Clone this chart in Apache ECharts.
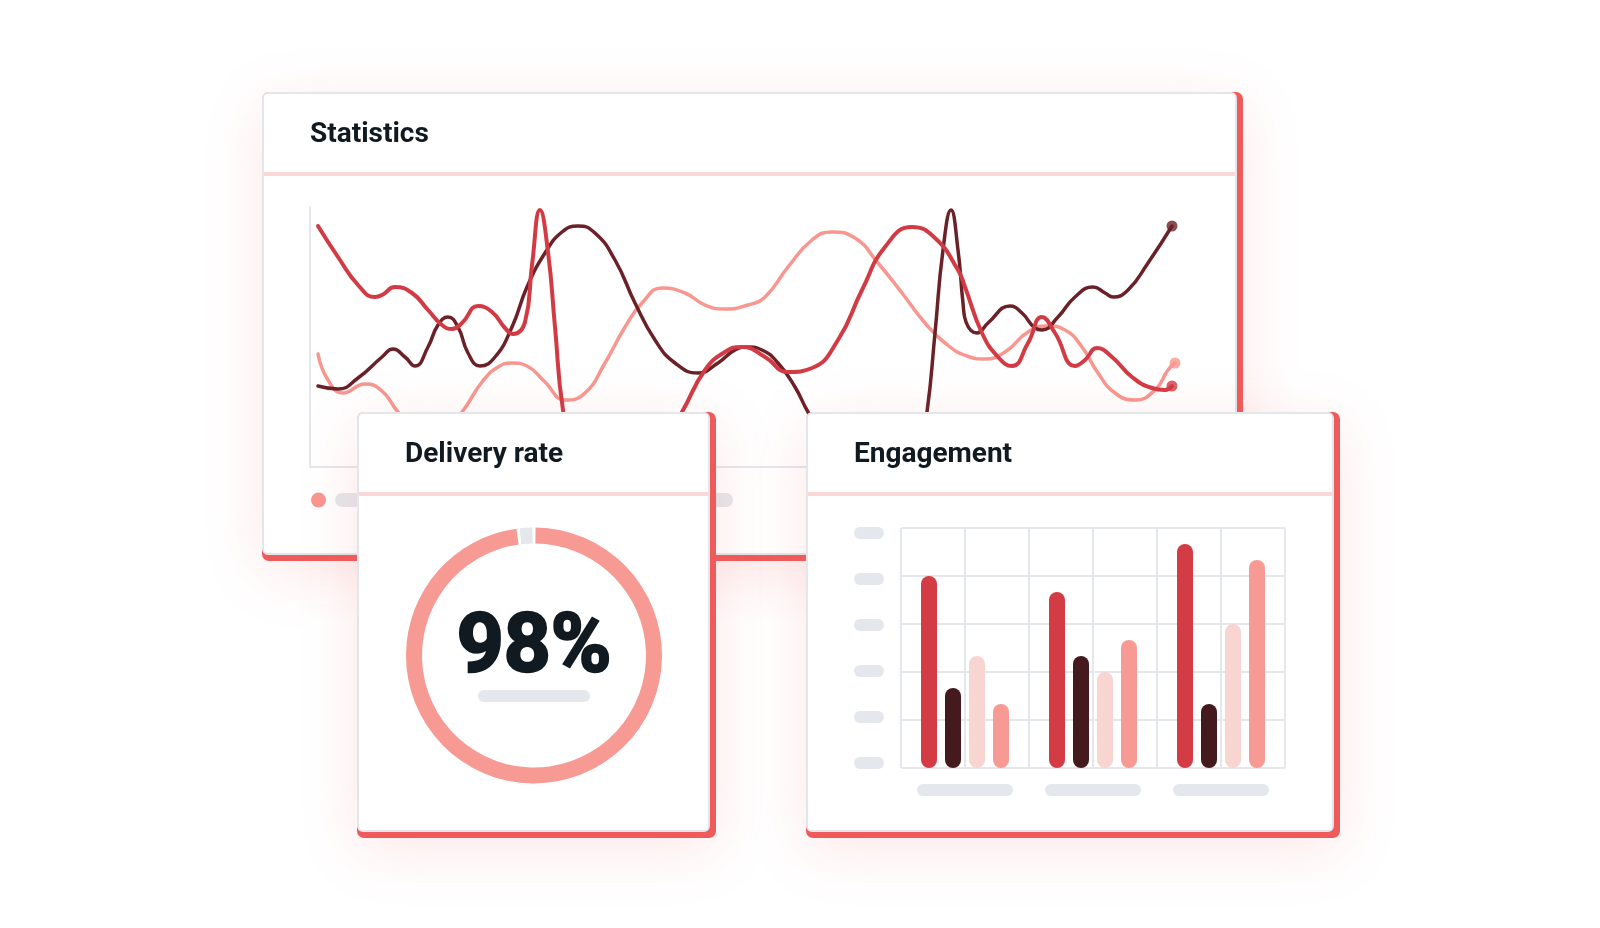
<!DOCTYPE html>
<html><head><meta charset="utf-8">
<script src="https://cdn.jsdelivr.net/npm/echarts@6/dist/echarts.min.js"></script>
<style>html,body{margin:0;padding:0;background:#fff;}#c{width:1600px;height:928px;}</style>
</head><body><div id="c"></div>
<script>
// ---- Statistics (line chart) data: [x, y] ----
const redLine = [[0.8,24.1],[2.8,21.0],[4.8,18.2],[6.5,17.0],[7.2,17.2],[8.5,18.0],[10.2,17.4],[11.8,15.7],[13.2,14.2],[14.2,13.8],[15.2,14.4],[16.8,16.1],[18.2,15.5],[19.5,13.9],[20.3,13.3],[21.5,14.5],[22.2,20.2],[23.0,25.7],[23.8,21.5],[24.5,14.0],[25.3,5.7],[26.5,0.8],[29.0,0.5],[33.0,0.6],[35.2,2.3],[37.2,5.5],[39.5,9.7],[41.5,11.5],[43.2,12.0],[45.5,11.0],[47.8,9.5],[50.2,9.9],[52.8,12.7],[55.2,17.7],[57.5,22.0],[60.2,24.0],[62.5,22.9],[64.8,19.7],[65.5,18.0],[67.2,13.4],[68.8,11.0],[70.2,10.1],[71.8,12.4],[73.2,15.0],[74.5,13.4],[76.5,10.1],[77.5,10.7],[78.7,11.9],[80.2,11.0],[82.2,9.0],[84.2,7.9],[85.5,7.7],[86.2,8.1]];
const darkLine = [[0.8,8.1],[2.8,7.8],[4.8,8.9],[7.2,11.0],[8.3,11.8],[9.5,11.0],[10.5,10.1],[11.8,12.0],[12.8,14.2],[13.8,15.0],[14.8,14.0],[15.8,11.4],[17.0,10.1],[18.5,11.0],[20.2,14.0],[21.7,18.0],[23.5,21.4],[25.2,23.5],[26.8,24.1],[28.5,23.4],[30.5,20.7],[32.5,16.4],[34.5,12.7],[36.5,10.4],[38.8,9.4],[40.8,10.4],[42.5,11.7],[43.8,12.0],[45.2,11.7],[46.8,10.4],[48.5,8.0],[49.8,5.5],[52.0,2.0],[57.0,0.7],[60.8,0.9],[61.7,5.5],[62.5,13.4],[63.3,21.7],[64.1,25.7],[64.8,21.7],[65.3,16.4],[65.6,14.5],[66.7,13.4],[67.8,14.4],[70.0,16.1],[71.2,15.4],[72.5,13.9],[73.2,13.7],[74.8,15.0],[76.5,17.0],[78.3,18.0],[79.5,17.4],[80.3,17.0],[81.8,17.7],[83.8,20.4],[86.2,24.1]];
const salmonLine = [[0.8,11.3],[1.8,8.7],[3.3,7.4],[5.5,8.3],[7.2,7.6],[8.8,5.5],[10.5,3.9],[12.0,3.1],[13.5,3.9],[15.2,5.5],[17.2,8.5],[18.8,10.0],[20.2,10.4],[21.7,10.1],[23.5,8.5],[25.5,6.7],[27.5,7.4],[29.5,10.4],[31.5,14.0],[33.2,16.4],[35.2,17.9],[37.5,17.4],[39.5,16.2],[41.5,15.8],[43.8,16.2],[45.5,17.0],[47.8,20.0],[50.2,22.7],[52.2,23.5],[54.5,22.9],[56.8,20.4],[59.2,17.4],[61.5,14.4],[63.5,12.4],[65.7,11.1],[67.5,10.8],[69.5,11.5],[71.8,13.5],[73.8,14.1],[75.5,13.7],[77.2,12.0],[78.8,9.4],[80.5,7.4],[82.5,6.7],[84.5,7.7],[85.8,9.7],[86.5,10.4]];

// ---- Engagement (bar chart) data ----
const engagementCategories = ['A', 'B', 'C'];
const engagementRed = [12, 11, 14];
const engagementDark = [5, 7, 4];
const engagementPale = [7, 6, 9];
const engagementSalmon = [4, 8, 13];
const engagementMax = 15;
const engagementPillCount = 6;

// ---- Delivery rate ----
const deliveryRate = 98;

const titles = ['Statistics', 'Delivery rate', 'Engagement'];

const C = {
  red: '#d23b44', dark: '#6b2128', salmon: '#f8968f',
  barRed: '#d33c45', barDark: '#451a1f', barPale: '#f8d5d1', barSalmon: '#f89a94',
  ring: '#f89a94', gray: '#e4e7eb', accent: '#ef5b5b', sep: '#f9d8d5', text: '#121a21'
};

function card(x, y, w, h, z, title) {
  return [
    { type: 'rect', z: z, silent: true,
      shape: { x: x, y: y, width: w + 6, height: h + 6, r: 7 },
      style: { fill: C.accent, shadowBlur: 60, shadowColor: 'rgba(239,91,91,0.15)', shadowOffsetY: 12 } },
    { type: 'rect', z: z + 1, silent: true,
      shape: { x: x + 1, y: y + 1, width: w - 2, height: h - 2, r: 5 },
      style: { fill: '#fff', stroke: '#e3e6ea', lineWidth: 2 } },
    { type: 'rect', z: z + 2, silent: true,
      shape: { x: x + 2, y: y + 80, width: w - 4, height: 4 },
      style: { fill: C.sep } },
    { type: 'text', z: z + 2, silent: true, x: x + 48, y: y + 43,
      style: { text: title, font: 'bold 28px Roboto', fill: C.text, textAlign: 'left', textVerticalAlign: 'middle' } }
  ];
}

const graphics = [].concat(
  card(262, 92, 975, 463, 1, titles[0]),
  [
    { type: 'circle', z: 3, silent: true, shape: { cx: 318.5, cy: 500, r: 7.5 }, style: { fill: C.salmon } },
    { type: 'rect', z: 3, silent: true, shape: { x: 335, y: 493, width: 398, height: 14, r: 7 }, style: { fill: C.gray } }
  ],
  card(357, 412, 353, 420, 10, titles[1]),
  card(806, 412, 528, 420, 10, titles[2]),
  [
    { type: 'text', z: 15, silent: true, x: 534, y: 650.5,
      style: { text: deliveryRate + '%', font: 'bold 82px Roboto', fill: C.text, stroke: C.text, lineWidth: 2.5,
        textAlign: 'center', textVerticalAlign: 'middle' } },
    { type: 'rect', z: 15, silent: true, shape: { x: 478, y: 690, width: 112, height: 12, r: 6 }, style: { fill: C.gray } }
  ]
);

const pill = (w) => ({ p: { width: w, height: 12, backgroundColor: C.gray, borderRadius: 6 } });

// y-axis placeholder pills spread evenly inside the grid (inset by half a pill)
const inset = engagementMax * 5 / 240;
const yPillValues = Array.from({ length: engagementPillCount }, (_, i) =>
  inset + i * (engagementMax - 2 * inset) / (engagementPillCount - 1));

function lineSeries(data, color, width) {
  return { type: 'line', xAxisIndex: 0, yAxisIndex: 0, data: data, smooth: 0.5, symbol: 'none', showSymbol: false,
    lineStyle: { color: color, width: width, cap: 'round', join: 'round' }, z: 5, silent: true };
}
function endDot(data, color) {
  return { type: 'scatter', xAxisIndex: 0, yAxisIndex: 0, data: [data[data.length - 1]], symbol: 'circle', symbolSize: 11,
    itemStyle: { color: color }, z: 6, silent: true };
}
function barSeries(data, color) {
  return { type: 'bar', xAxisIndex: 1, yAxisIndex: 1, data: data, barWidth: 16, barGap: '50%',
    itemStyle: { color: color, borderRadius: 8 }, z: 14, silent: true };
}

const option = {
  animation: false,
  graphic: { elements: graphics },
  grid: [
    { left: 310, top: 207, width: 870, height: 260 },
    { left: 901, top: 528, width: 384, height: 240 }
  ],
  xAxis: [
    { gridIndex: 0, type: 'value', min: 0, max: 87, z: 4,
      axisLine: { show: true, lineStyle: { color: C.gray, width: 2 } }, axisTick: { show: false }, axisLabel: { show: false }, splitLine: { show: false } },
    { gridIndex: 1, type: 'category', data: engagementCategories, z: 13,
      axisLine: { show: false }, axisTick: { show: false }, splitLine: { show: false },
      axisLabel: { margin: 16, formatter: () => '{p| }', rich: pill(96) } },
    { gridIndex: 1, type: 'value', min: 0, max: 6, interval: 1, position: 'top', z: 13,
      axisLine: { show: false }, axisTick: { show: false }, axisLabel: { show: false },
      splitLine: { show: true, lineStyle: { color: C.gray, width: 2 } } }
  ],
  yAxis: [
    { gridIndex: 0, type: 'value', min: 0, max: 26, z: 4,
      axisLine: { show: true, lineStyle: { color: C.gray, width: 2 } }, axisTick: { show: false }, axisLabel: { show: false }, splitLine: { show: false } },
    { gridIndex: 1, type: 'value', min: 0, max: engagementMax, interval: 3, z: 13,
      axisLine: { show: false }, axisTick: { show: false },
      axisLabel: { margin: 17, customValues: yPillValues, formatter: () => '{p| }', rich: pill(30) },
      splitLine: { show: true, lineStyle: { color: C.gray, width: 2 } } }
  ],
  series: [
    lineSeries(salmonLine, C.salmon, 3.5),
    lineSeries(darkLine, C.dark, 3.5),
    lineSeries(redLine, C.red, 4),
    endDot(salmonLine, C.salmon),
    endDot(darkLine, C.dark),
    endDot(redLine, C.red),
    barSeries(engagementRed, C.barRed),
    barSeries(engagementDark, C.barDark),
    barSeries(engagementPale, C.barPale),
    barSeries(engagementSalmon, C.barSalmon),
    { type: 'pie', center: [534, 655.5], radius: [112, 128], startAngle: 90, clockwise: true, padAngle: 1.4,
      z: 14, silent: true, label: { show: false }, labelLine: { show: false },
      data: [
        { value: deliveryRate, name: 'Delivered', itemStyle: { color: C.ring } },
        { value: 100 - deliveryRate, name: 'Failed', itemStyle: { color: C.gray } }
      ] }
  ]
};

const chart = echarts.init(document.getElementById('c'), null, { renderer: 'canvas', width: 1600, height: 928 });
chart.setOption(option);
</script></body></html>
